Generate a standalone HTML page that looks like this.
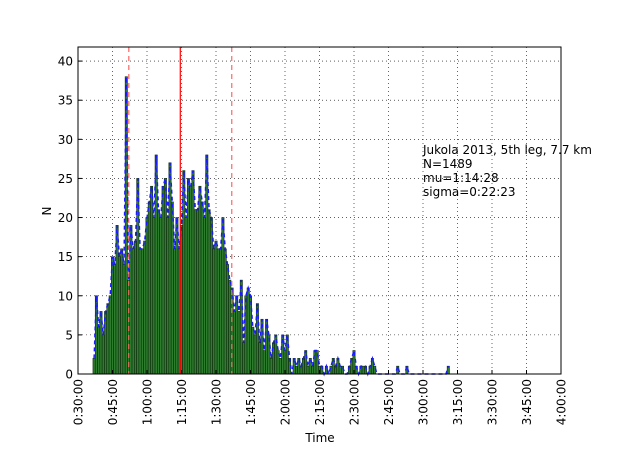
<!DOCTYPE html>
<html><head><meta charset="utf-8"><style>body{margin:0;background:#fff}svg{display:block;font-family:"DejaVu Sans","Liberation Sans",sans-serif}</style></head>
<body>
<svg id="chart" width="624" height="468" viewBox="0 0 624 468" xmlns="http://www.w3.org/2000/svg">
<rect x="0" y="0" width="624" height="468" fill="#fff"/>
<g id="grid"></g>
<g id="bars"></g>
<g id="overlay"></g>
<rect x="78" y="47" width="483" height="327" fill="none" stroke="#000" stroke-width="1"/>
<g id="axes"></g>
<text transform="translate(51,211) rotate(-90)" text-anchor="middle" font-size="12">N</text>
<text x="320" y="442" text-anchor="middle" font-size="12">Time</text>
<g font-size="12">
<text x="423" y="154">Jukola 2013, 5th leg, 7.7 km</text>
<text x="423" y="168">N=1489</text>
<text x="423" y="182">mu=1:14:28</text>
<text x="423" y="196">sigma=0:22:23</text>
</g>
</svg>
<script>
const binStart = 37;
const counts = [2,10,6,8,5,8,9,10,15,14,19,15,16,14,38,12,19,16,17,25,16,16,17,20,22,24,20,28,21,20,24,25,20,27,22,16,20,16,19,26,20,25,24,26,21,21,24,22,20,28,21,20,16,17,16,16,20,16,14,12,11,8,10,8,12,4,10,11,
10,6,5,9,4,7,3,7,5,2,4,5,3,2,5,3,5,2,0,2,1,2,1,2,3,1,2,1,3,3,1,1,0,1,0,1,2,1,2,1,1,0,0,1,2,3,1,0,1,1,1,0,1,2,1,0,0,0,0,0,0,0,0,0,1,0,0,0,1,0,0,0,0,0,0,0,0,0,0,0,0,0,0,0,0,0,1];
const xTicks = [30,45,60,75,90,105,120,135,150,165,180,195,210,225,240];
const xTickLabels = ["0:30:00","0:45:00","1:00:00","1:15:00","1:30:00","1:45:00","2:00:00","2:15:00","2:30:00","2:45:00","3:00:00","3:15:00","3:30:00","3:45:00","4:00:00"];
const yTicks = [0,5,10,15,20,25,30,35,40];
const mu = 74.47, sigma = 22.38;
const NS="http://www.w3.org/2000/svg";
const X0=78,X1=561,Y0=374,Y1=47,TMIN=30,TMAX=240,YMAX=41.8;
const xs=t=>X0+(t-TMIN)/(TMAX-TMIN)*(X1-X0);
const ys=v=>Y0-v/YMAX*(Y0-Y1);
function mk(tag,attrs,parent){const e=document.createElementNS(NS,tag);for(const k in attrs)e.setAttribute(k,attrs[k]);parent.appendChild(e);return e;}
const grid=document.getElementById('grid'),bars=document.getElementById('bars'),ov=document.getElementById('overlay'),axes=document.getElementById('axes');
xTicks.forEach((t,i)=>{
  const g=mk('line',{x1:xs(t),x2:xs(t),y1:Y1,y2:Y0,stroke:'#000','stroke-width':0.6,'stroke-dasharray':'1,3'},grid);
  
  
  const tk=mk('line',{x1:xs(t),x2:xs(t),y1:Y0,y2:Y0-4,stroke:'#000'},axes);
  
  
  const tx=mk('text',{transform:`translate(${xs(t)+4.5},379) rotate(-90)`,'text-anchor':'end','font-size':12},axes);
  tx.textContent=xTickLabels[i];
  
  
});
yTicks.forEach(v=>{
  const g=mk('line',{x1:X0,x2:X1,y1:ys(v),y2:ys(v),stroke:'#000','stroke-width':0.6,'stroke-dasharray':'1,3'},grid);
  
  
  const tk=mk('line',{x1:X0,x2:X0+4,y1:ys(v),y2:ys(v),stroke:'#000'},axes);
  
  
  const tx=mk('text',{x:73,y:ys(v)+4.5,'text-anchor':'end','font-size':12},axes);
  tx.textContent=String(v);
  
  
});
let pts=[];
counts.forEach((c,i)=>{
  const t=binStart+i;
  if(c>0){
    const b=mk('rect',{x:xs(t-0.5),y:ys(c),width:xs(t+0.5)-xs(t-0.5),height:Y0-ys(c),fill:'#2e7d2e',stroke:'#0c2a0c','stroke-width':0.6},bars);
    
    
  }
  pts.push(xs(t)+','+ys(c));
});
const pl=mk('polyline',{points:pts.join(' '),fill:'none',stroke:'#1a1aff','stroke-width':1.5,'stroke-dasharray':'4,3'},ov);


[[mu,'none',1.2,'mean-line'],[mu-sigma,'5,4',1.2,'minus-sigma-line'],[mu+sigma,'5,4',1.2,'plus-sigma-line']].forEach(([t,d,w,n])=>{
  const l=mk('line',{x1:xs(t),x2:xs(t),y1:Y1,y2:Y0,stroke:d==='none'?'#ff0000':'#ff6666','stroke-width':w},ov);
  if(d!=='none')l.setAttribute('stroke-dasharray',d);
  
  
});
</script>
</body></html>
